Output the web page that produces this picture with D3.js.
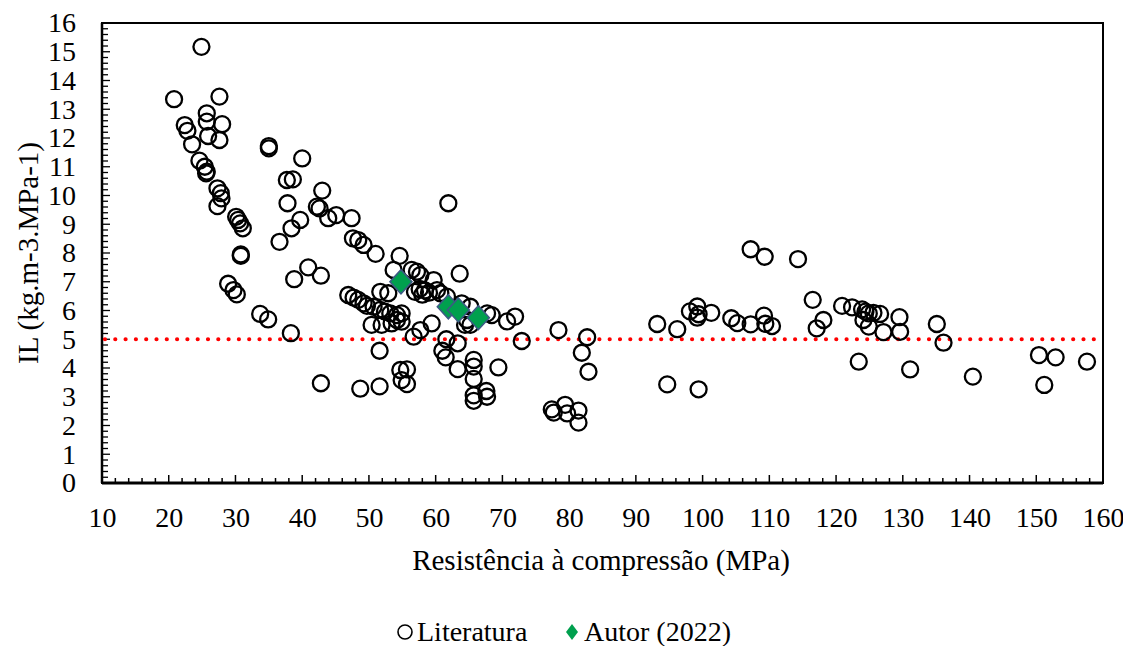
<!DOCTYPE html>
<html>
<head>
<meta charset="utf-8">
<script src="https://cdn.jsdelivr.net/npm/d3@7/dist/d3.min.js"></script>
<style>
  html, body { margin: 0; padding: 0; background: #fff; }
  svg { display: block; }
  svg text { font-family: "Liberation Serif", "Tinos", "Times New Roman", "Nimbus Roman", "DejaVu Serif", serif !important; fill: #000; }
</style>
</head>
<body>
<svg id="chart" width="1123" height="646"></svg>
<script>
// ---------- DATA ----------
const litX = [24.9,20.8,27.6,25.7,25.7,22.4,22.8,28.0,25.9,27.6,23.5,24.6,25.4,25.7,25.6,27.3,27.8,27.9,27.3,30.1,30.4,30.7,31.1,
  35.0,35.0,40.0,37.7,38.6,37.8,43.0,42.2,42.6,43.9,45.1,47.4,39.7,38.4,36.6,30.8,30.8,28.9,29.7,30.2,33.7,34.9,38.3,38.8,40.9,42.8,42.8,
  47.6,48.4,49.2,51.0,54.6,53.7,46.9,47.7,48.4,49.2,49.7,51.7,52.9,50.7,51.7,52.4,53.2,54.2,54.9,50.4,51.9,53.4,54.9,54.2,51.6,48.7,51.6,
  54.7,55.7,54.9,55.7,56.4,57.2,57.7,59.7,56.9,57.6,58.4,59.0,58.0,60.2,60.7,56.7,57.7,59.4,61.9,63.6,61.7,63.9,65.2,64.7,65.2,64.4,
  67.7,68.4,70.7,71.9,72.9,61.6,63.3,61.0,61.5,63.3,65.7,65.7,65.7,69.4,65.7,65.7,67.6,67.7,
  78.4,82.7,81.9,82.9,77.4,77.7,79.4,79.7,81.4,81.4,
  93.2,96.2,94.7,99.4,98.1,99.2,99.4,99.2,101.3,104.3,105.2,107.2,109.2,109.4,110.4,107.2,109.3,114.3,
  116.5,118.1,117.1,120.9,122.4,123.9,124.4,124.9,125.6,126.6,124.1,124.9,127.1,129.5,129.6,123.4,131.1,135.1,136.1,140.5,150.4,152.9,151.2,157.6];
const litY = [15.17,13.35,13.44,12.86,12.57,12.45,12.25,12.48,12.07,11.93,11.78,11.21,11.0,10.83,10.77,10.25,10.08,9.90,9.63,9.26,9.15,9.03,8.86,
  11.72,11.64,11.29,10.54,10.56,9.73,10.17,9.61,9.55,9.21,9.32,9.21,9.15,8.86,8.39,7.95,7.90,6.93,6.71,6.56,5.88,5.69,5.21,7.09,7.50,7.21,3.47,
  8.51,8.45,8.28,7.97,7.90,7.41,6.54,6.45,6.37,6.25,6.16,6.65,6.60,6.13,6.02,5.96,5.90,5.84,5.90,5.50,5.50,5.55,5.61,5.67,4.60,3.28,3.36,
  3.93,3.95,3.58,3.44,7.41,7.35,7.23,7.06,6.65,6.75,6.70,6.62,6.55,6.71,6.60,5.09,5.32,5.55,9.73,7.28,6.48,6.25,6.13,5.67,5.50,5.50,
  5.90,5.84,5.62,5.79,4.94,5.00,4.86,4.60,4.37,3.96,4.28,4.05,3.62,4.02,3.05,2.86,3.20,3.00,
  5.32,5.07,4.53,3.87,2.56,2.45,2.72,2.42,2.52,2.10,
  5.53,5.35,3.43,3.26,5.97,6.14,5.87,5.75,5.92,5.73,5.56,5.52,5.82,5.54,5.46,8.13,7.87,7.79,
  6.37,5.67,5.38,6.16,6.11,6.04,5.96,5.90,5.92,5.88,5.67,5.44,5.25,5.77,5.26,4.22,3.95,5.53,4.88,3.70,4.45,4.37,3.41,4.22];
const autorX = [54.8, 61.9, 63.4, 66.4];
const autorY = [7.00, 6.13, 6.02, 5.75];
const xTicks = d3.range(10, 161, 10);
const yTicks = d3.range(0, 17, 1);
const limitIL = 5;
const xTitle = "Resistência à compressão (MPa)";
const yTitle = "IL (kg.m-3.MPa-1)";
const legendLabels = ["Literatura", "Autor (2022)"];

// ---------- LAYOUT ----------
const FONT = "'Liberation Serif', Tinos, 'Times New Roman', serif";
const svg = d3.select("#chart");
const L = 102, R = 1103, T = 23, B = 483;
const x = d3.scaleLinear().domain([10, 160]).range([L, R]);
const y = d3.scaleLinear().domain([0, 16]).range([B, T]);

// minor/major ticks (inside)
const gTicks = svg.append("g");
d3.range(10, 160.01, 2).forEach(v => {
  const major = Math.abs(v % 10) < 1e-6;
  gTicks.append("line").attr("x1", x(v)).attr("x2", x(v))
    .attr("y1", B).attr("y2", B - (major ? 8 : 5))
    .attr("stroke", "#000").attr("stroke-width", 1.5);
});
d3.range(0, 16.001, 0.2).forEach(v => {
  const major = Math.abs(v - Math.round(v)) < 1e-6;
  gTicks.append("line").attr("y1", y(v)).attr("y2", y(v))
    .attr("x1", L).attr("x2", L + (major ? 8 : 6))
    .attr("stroke", "#000").attr("stroke-width", 1.3);
});

// frame
svg.append("rect").attr("x", L).attr("y", T).attr("width", R - L).attr("height", B - T)
  .attr("fill", "none").attr("stroke", "#000").attr("stroke-width", 2);
svg.append("line").attr("x1", L).attr("x2", R).attr("y1", B).attr("y2", B)
  .attr("stroke", "#000").attr("stroke-width", 3);
svg.append("line").attr("x1", L).attr("x2", L).attr("y1", T).attr("y2", B)
  .attr("stroke", "#000").attr("stroke-width", 2.5);

// tick labels via d3 axes (lines hidden)
const xAxis = svg.append("g").attr("transform", `translate(0,${B})`)
  .call(d3.axisBottom(x).tickValues(xTicks).tickSize(0).tickPadding(24).tickFormat(d3.format("d")));
const yAxis = svg.append("g").attr("transform", `translate(${L},0)`)
  .call(d3.axisLeft(y).tickValues(yTicks).tickSize(0).tickPadding(26).tickFormat(d3.format("d")));
[xAxis, yAxis].forEach(g => {
  g.attr("font-family", FONT).attr("font-size", 28);
  g.select(".domain").remove();
  g.selectAll("text").style("font-family", FONT).attr("font-size", 28).attr("fill", "#000");
});

// red dotted limit line
svg.append("line").attr("x1", L + 3).attr("x2", R).attr("y1", y(limitIL)).attr("y2", y(limitIL))
  .attr("stroke", "#ff0000").attr("stroke-width", 4.2).attr("stroke-linecap", "round")
  .attr("stroke-dasharray", "0 10.3");

// literature circles
const lit = litX.map((v, i) => ({x: v, y: litY[i]}));
svg.append("g").selectAll("circle").data(lit).join("circle")
  .attr("cx", d => x(d.x)).attr("cy", d => y(d.y)).attr("r", 8)
  .attr("fill", "none").attr("stroke", "#000").attr("stroke-width", 2.3);

// author diamonds
const diamondPath = (w, h) => `M0,${-h}L${w},0L0,${h}L${-w},0Z`;
const aut = autorX.map((v, i) => ({x: v, y: autorY[i]}));
svg.append("g").selectAll("path").data(aut).join("path")
  .attr("d", diamondPath(11, 12))
  .attr("transform", d => `translate(${x(d.x)},${y(d.y)})`)
  .attr("fill", "#00a04e").attr("stroke", "#3c5a84").attr("stroke-width", 1.6);

// titles
svg.append("text").attr("x", 601).attr("y", 570).attr("text-anchor", "middle")
  .style("font-family", FONT).attr("font-size", 29).text(xTitle);
svg.append("text").attr("transform", `translate(38,${(T + B) / 2}) rotate(-90)`)
  .attr("text-anchor", "middle").style("font-family", FONT).attr("font-size", 29).text(yTitle);

// legend
const lg = svg.append("g").attr("transform", "translate(0,632)");
lg.append("circle").attr("cx", 405).attr("cy", 0).attr("r", 7)
  .attr("fill", "none").attr("stroke", "#000").attr("stroke-width", 1.6);
lg.append("text").attr("x", 417).attr("y", 9).style("font-family", FONT).attr("font-size", 28).text(legendLabels[0]);
lg.append("path").attr("d", diamondPath(6, 8))
  .attr("transform", "translate(572,0)").attr("fill", "#00a04e");
lg.append("text").attr("x", 584).attr("y", 9).style("font-family", FONT).attr("font-size", 28).text(legendLabels[1]);
</script>
</body>
</html>
